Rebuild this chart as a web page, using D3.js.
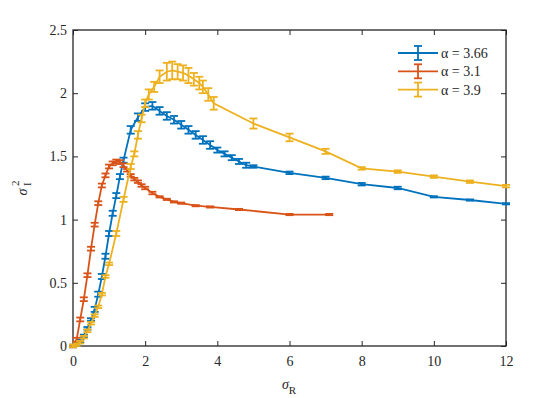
<!DOCTYPE html>
<html>
<head>
<meta charset="utf-8">
<script src="https://cdn.jsdelivr.net/npm/d3@7"></script>
<style>
  body { margin: 0; background: #fff; }
</style>
</head>
<body>
<div class="canvas"></div>
<script>
// data
const seriesNames = ["α = 3.66", "α = 3.1", "α = 3.9"];
const seriesColors = ["#0072BD", "#D95319", "#EDB120"];

const blueX = [0, 0.1, 0.2, 0.3, 0.4, 0.5, 0.6, 0.7, 0.8, 0.9, 1.0, 1.1, 1.2, 1.3, 1.4, 1.6, 1.8, 2.0, 2.2, 2.4, 2.6, 2.8, 3.0, 3.2, 3.4, 3.6, 3.8, 4.0, 4.2, 4.4, 4.6, 4.8, 5, 6, 7, 8, 9, 10, 11, 12];
const blueY = [0, 0.01, 0.04, 0.08, 0.14, 0.21, 0.29, 0.41, 0.55, 0.71, 0.89, 1.05, 1.19, 1.34, 1.47, 1.71, 1.81, 1.89, 1.90, 1.86, 1.82, 1.79, 1.75, 1.71, 1.67, 1.63, 1.59, 1.55, 1.52, 1.49, 1.46, 1.43, 1.42, 1.37, 1.33, 1.28, 1.25, 1.18, 1.155, 1.125];
const blueErr = [0.01, 0.01, 0.01, 0.01, 0.01, 0.01, 0.02, 0.02, 0.02, 0.02, 0.02, 0.02, 0.02, 0.02, 0.02, 0.03, 0.03, 0.03, 0.03, 0.03, 0.03, 0.03, 0.03, 0.03, 0.03, 0.03, 0.03, 0.02, 0.02, 0.02, 0.02, 0.02, 0.01, 0.01, 0.01, 0.01, 0.01, 0.005, 0.005, 0.005];

const redX = [0, 0.1, 0.2, 0.3, 0.4, 0.5, 0.6, 0.7, 0.8, 0.9, 1.0, 1.1, 1.2, 1.3, 1.4, 1.5, 1.6, 1.7, 1.8, 1.9, 2.0, 2.2, 2.4, 2.6, 2.8, 3.0, 3.4, 3.8, 4.6, 6, 7.1];
const redY = [0, 0.05, 0.21, 0.37, 0.56, 0.77, 0.96, 1.13, 1.27, 1.35, 1.42, 1.445, 1.46, 1.455, 1.43, 1.39, 1.35, 1.32, 1.30, 1.27, 1.25, 1.21, 1.18, 1.16, 1.14, 1.13, 1.11, 1.10, 1.08, 1.04, 1.04];
const redErr = [0.01, 0.015, 0.015, 0.015, 0.015, 0.015, 0.015, 0.015, 0.015, 0.015, 0.015, 0.015, 0.015, 0.015, 0.015, 0.01, 0.01, 0.01, 0.01, 0.01, 0.01, 0.01, 0.005, 0.005, 0.005, 0.005, 0.005, 0.005, 0.005, 0.005, 0.005];

const yellowX = [0, 0.1, 0.2, 0.3, 0.4, 0.5, 0.6, 0.7, 0.8, 0.9, 1.0, 1.2, 1.4, 1.6, 1.7, 1.8, 1.9, 2.0, 2.1, 2.25, 2.4, 2.6, 2.75, 2.9, 3.05, 3.2, 3.35, 3.5, 3.6, 3.75, 3.9, 5, 6, 7, 8, 9, 10, 11, 12];
const yellowY = [0, 0.01, 0.03, 0.07, 0.12, 0.18, 0.24, 0.31, 0.41, 0.55, 0.65, 0.89, 1.16, 1.42, 1.52, 1.67, 1.80, 1.92, 1.99, 2.05, 2.13, 2.17, 2.18, 2.17, 2.16, 2.14, 2.11, 2.08, 2.05, 1.99, 1.92, 1.76, 1.65, 1.54, 1.405, 1.38, 1.34, 1.30, 1.265];
const yellowErr = [0.01, 0.01, 0.01, 0.01, 0.01, 0.01, 0.01, 0.01, 0.01, 0.01, 0.01, 0.02, 0.02, 0.02, 0.02, 0.03, 0.03, 0.03, 0.04, 0.04, 0.05, 0.07, 0.07, 0.06, 0.06, 0.06, 0.05, 0.05, 0.05, 0.05, 0.05, 0.04, 0.03, 0.02, 0.01, 0.01, 0.01, 0.01, 0.01];

const xTicks = [0, 2, 4, 6, 8, 10, 12];
const yTicks = [0, 0.5, 1, 1.5, 2, 2.5];

const serif = '"Liberation Serif"';

const margin = { top: 30, right: 54, bottom: 52, left: 73 };
const graphWidth = 560 - margin.left - margin.right;
const graphHeight = 398 - margin.top - margin.bottom;

const svg = d3
  .select(".canvas")
  .append("svg")
  .attr("width", 560)
  .attr("height", 398);

const graph = svg
  .append("g")
  .attr("transform", `translate(${margin.left}, ${margin.top})`);

//scales
const x = d3.scaleLinear().domain([0, 12]).range([0, graphWidth]);
const y = d3.scaleLinear().domain([0, 2.5]).range([graphHeight, 0]);

//axes, ticks pointing inward
const xAxis = d3.axisBottom(x).tickValues(xTicks).tickFormat(d => d).tickSizeInner(-5).tickSizeOuter(0).tickPadding(10);
const yAxis = d3.axisLeft(y).tickValues(yTicks).tickFormat(d => d).tickSizeInner(-5).tickSizeOuter(0).tickPadding(6);
const xTop = d3.axisTop(x).tickValues(xTicks).tickSizeInner(-5).tickSizeOuter(0).tickFormat("");
const yRight = d3.axisRight(y).tickValues(yTicks).tickSizeInner(-5).tickSizeOuter(0).tickFormat("");

const styleAxis = g => {
  g.select(".domain").remove();
  g.selectAll("line").attr("stroke", "#262626").attr("stroke-width", 1);
  g.selectAll("text")
    .attr("fill", "#262626")
    .style("font-family", serif)
    .style("font-size", "14px");
};

graph.append("g").attr("transform", `translate(0, ${graphHeight})`).call(xAxis).call(styleAxis);
graph.append("g").call(yAxis).call(styleAxis);
graph.append("g").call(xTop).call(styleAxis);
graph.append("g").attr("transform", `translate(${graphWidth}, 0)`).call(yRight).call(styleAxis);

//box
graph.append("rect")
  .attr("width", graphWidth)
  .attr("height", graphHeight)
  .attr("fill", "none")
  .attr("stroke", "#262626")
  .attr("stroke-width", 1.3);

//series
const series = [
  { xs: blueX, ys: blueY, es: blueErr },
  { xs: redX, ys: redY, es: redErr },
  { xs: yellowX, ys: yellowY, es: yellowErr }
].map((s, i) => ({
  name: seriesNames[i],
  color: seriesColors[i],
  points: s.xs.map((v, j) => ({ x: v, y: s.ys[j], e: s.es[j] }))
}));

const line = d3.line().x(d => x(d.x)).y(d => y(d.y));
const cap = 4;

const plot = graph.append("g");

series.forEach(s => {
  const g = plot.append("g").attr("stroke", s.color).attr("fill", "none").attr("stroke-width", 1.8);

  g.append("path").datum(s.points).attr("d", line);

  const bars = g.selectAll(".bar").data(s.points).enter().append("g").attr("class", "bar");
  bars.append("line")
    .attr("x1", d => x(d.x)).attr("x2", d => x(d.x))
    .attr("y1", d => y(d.y - d.e)).attr("y2", d => y(d.y + d.e));
  bars.append("line")
    .attr("x1", d => x(d.x) - cap).attr("x2", d => x(d.x) + cap)
    .attr("y1", d => y(d.y - d.e)).attr("y2", d => y(d.y - d.e));
  bars.append("line")
    .attr("x1", d => x(d.x) - cap).attr("x2", d => x(d.x) + cap)
    .attr("y1", d => y(d.y + d.e)).attr("y2", d => y(d.y + d.e));
});

//legend
const legend = graph.append("g").attr("transform", `translate(${graphWidth - 108}, 23)`);
series.forEach((s, i) => {
  const row = legend.append("g").attr("transform", `translate(0, ${i * 18.3})`);
  row.append("line").attr("x1", 0).attr("x2", 40).attr("y1", 0).attr("y2", 0)
    .attr("stroke", s.color).attr("stroke-width", 1.8);
  row.append("line").attr("x1", 20).attr("x2", 20).attr("y1", -7).attr("y2", 7)
    .attr("stroke", s.color).attr("stroke-width", 1.8);
  row.append("line").attr("x1", 16).attr("x2", 24).attr("y1", -7).attr("y2", -7)
    .attr("stroke", s.color).attr("stroke-width", 1.8);
  row.append("line").attr("x1", 16).attr("x2", 24).attr("y1", 7).attr("y2", 7)
    .attr("stroke", s.color).attr("stroke-width", 1.8);
  row.append("text").attr("x", 43).attr("y", 5)
    .style("font-family", serif)
    .style("font-size", "14px")
    .attr("fill", "#262626")
    .text(s.name);
});

//axis labels
const xLabel = svg.append("text")
  .attr("x", 289)
  .attr("y", 389)
  .attr("text-anchor", "middle")
  .attr("fill", "#262626")
  .style("font-family", serif)
  .style("font-size", "14px");
xLabel.append("tspan").style("font-style", "italic").text("σ");
xLabel.append("tspan").attr("dy", 5).style("font-size", "11px").text("R");

const yLabel = svg.append("g")
  .attr("fill", "#262626")
  .attr("transform", `translate(27, ${margin.top + graphHeight / 2}) rotate(-90)`);
yLabel.append("text").attr("x", -4).attr("text-anchor", "middle")
  .style("font-family", serif).style("font-size", "14px")
  .style("font-style", "italic").text("σ");
yLabel.append("text").attr("x", 2).attr("y", 4)
  .style("font-family", serif).style("font-size", "11px").text("I");
yLabel.append("text").attr("x", 2).attr("y", -8)
  .style("font-family", serif).style("font-size", "11px").text("2");
</script>
</body>
</html>
